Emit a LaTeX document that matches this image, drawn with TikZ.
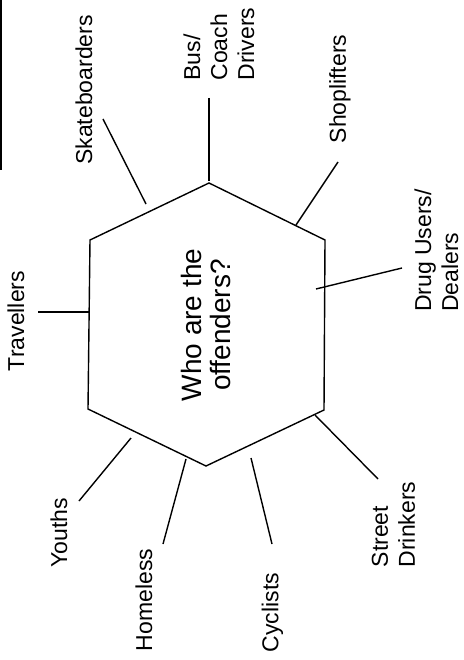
\documentclass[tikz,border=0pt]{standalone}
\usepackage{fontspec}
\setmainfont{Liberation Sans}

\begin{document}
\begin{tikzpicture}[x=1pt, y=-1pt,
  every node/.style = {rotate=90, inner sep=0pt, align=left,
    font=\fontsize{23}{27}\selectfont}]
    \tikzstyle{spoke}=[line width=1.4pt]
  \useasboundingbox (0,0) rectangle (463,660);
  \fill (0,0) rectangle (1.6,170);
  \coordinate (top) at (209,183);
  \coordinate (upright) at (325,240);
  \coordinate (lowright) at (324,410);
  \coordinate (bottom) at (206,466);
  \coordinate (lowleft) at (88,409);
  \coordinate (upleft) at (90,240);
  \draw [spoke, line join=miter] (top) -- (upright) -- (lowright) -- (bottom)
    -- (lowleft) -- (upleft) -- cycle;
  \node [align=center, font=\fontsize{28}{29}\selectfont] (who) at (206,325)
    {Who are the\\offenders?};
  \node (skate) at (84,90) {Skateboarders};
  \node (bus) at (219,44) {Bus/\\Coach\\Drivers};
  \node (shop) at (340,89) {Shoplifters};
  \node (drug) at (436.5,250.5) {Drug Users/\\Dealers};
  \node (trav) at (16,321) {Travellers};
  \node (youth) at (59,532.5) {Youths};
  \node (home) at (144,600) {Homeless};
  \node (cycl) at (272.5,612.5) {Cyclists};
  \node (street) at (393.5,524.5) {Street\\Drinkers};
  \coordinate (skate-a) at (103,119);  \coordinate (skate-b) at (146,204);
  \coordinate (bus-a) at (209,98);     \coordinate (bus-b) at (209,181);
  \coordinate (shop-a) at (338,162);   \coordinate (shop-b) at (296,225);
  \coordinate (drug-a) at (402,268);   \coordinate (drug-b) at (316,289);
  \coordinate (trav-a) at (38,312);    \coordinate (trav-b) at (89,312);
  \coordinate (youth-a) at (79,501);   \coordinate (youth-b) at (131,438);
  \coordinate (home-a) at (163,544);   \coordinate (home-b) at (186,459);
  \coordinate (cycl-a) at (272,544);   \coordinate (cycl-b) at (251,458);
  \coordinate (street-a) at (378,479); \coordinate (street-b) at (315,415);
  \foreach \s in {skate,bus,shop,drug,trav,youth,home,cycl,street}
    \draw [spoke] (\s-a) -- (\s-b);
\end{tikzpicture}
\end{document}
